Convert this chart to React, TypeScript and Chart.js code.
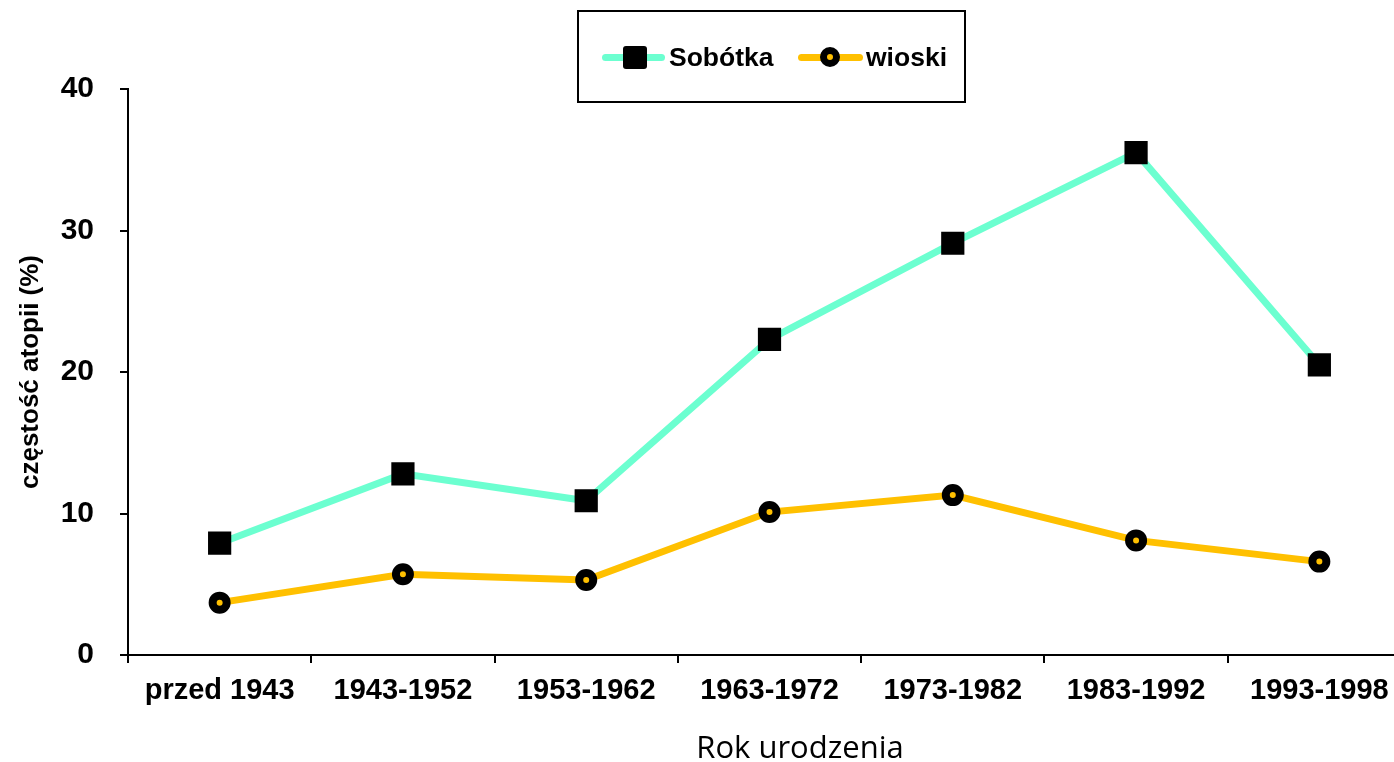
import React, { useEffect, useRef } from "react";
import { Chart, registerables } from "chart.js";

Chart.register(...registerables);

const categories = ["przed 1943", "1943-1952", "1953-1962", "1963-1972", "1973-1982", "1983-1992", "1993-1998"];
const sobotka = [7.9, 12.8, 10.9, 22.3, 29.1, 35.5, 20.5];
const wioski = [3.7, 5.7, 5.3, 10.1, 11.3, 8.1, 6.6];
const yTicks = [0, 10, 20, 30, 40];

const MINT = "#6CFFD0";
const GOLD = "#FFC000";
const BOLD = "'Liberation Sans', Arial, sans-serif";

export default function App() {
  const ref = useRef<HTMLCanvasElement | null>(null);

  useEffect(() => {
    if (!ref.current) return;
    const chart = new Chart(ref.current, {
      type: "line",
      data: {
        labels: categories,
        datasets: [
          {
            label: "Sobótka",
            data: sobotka,
            borderColor: MINT,
            borderWidth: 7,
            pointStyle: "rect",
            pointRadius: 15,
            pointBackgroundColor: "#000",
            pointBorderColor: "#000",
            pointBorderWidth: 2,
            tension: 0,
          },
          {
            label: "wioski",
            data: wioski,
            borderColor: GOLD,
            borderWidth: 7,
            pointStyle: "circle",
            pointRadius: 7,
            pointBackgroundColor: GOLD,
            pointBorderColor: "#000",
            pointBorderWidth: 8,
            tension: 0,
          },
        ],
      },
      options: {
        responsive: false,
        animation: false,
        layout: { padding: { top: 89, left: 0, right: 0, bottom: 0 } },
        plugins: { legend: { display: false }, tooltip: { enabled: false } },
        scales: {
          x: {
            type: "category",
            offset: true,
            grid: { offset: true, drawOnChartArea: false, drawTicks: true, tickLength: 8, color: "#000", lineWidth: 2 },
            border: { display: true, color: "#000", width: 2 },
            ticks: { color: "#000", font: { family: BOLD, size: 29, weight: "bold" }, padding: 11, maxRotation: 0, autoSkip: false },
            afterFit: (s: any) => { s.height = 107; },
          },
          y: {
            min: 0,
            max: 40,
            afterBuildTicks: (s: any) => { s.ticks = yTicks.map((v) => ({ value: v })); },
            grid: { drawOnChartArea: false, drawTicks: true, tickLength: 8, color: "#000", lineWidth: 2 },
            border: { display: true, color: "#000", width: 2 },
            ticks: { color: "#000", font: { family: BOLD, size: 30, weight: "bold" }, padding: 26 },
            title: {
              display: true,
              text: "częstość atopii (%)",
              color: "#000",
              font: { family: BOLD, size: 26, weight: "bold" },
              padding: { top: 15, bottom: 0 },
            },
            afterFit: (s: any) => { s.width = 128; },
          },
        },
      },
    });
    return () => chart.destroy();
  }, []);

  const abs = (style: React.CSSProperties): React.CSSProperties => ({ position: "absolute", ...style });

  return (
    <div style={{ position: "fixed", left: 0, top: 0, width: 1394, height: 762, overflow: "hidden", background: "#fff" }}>
      <canvas ref={ref} width={1428} height={762} style={{ position: "absolute", left: 0, top: 0 }} />
      <div style={abs({ left: 577, top: 10, width: 389, height: 93, border: "2px solid #000", boxSizing: "border-box" })} />
      <div style={abs({ left: 602, top: 54, width: 63, height: 7, borderRadius: 4, background: MINT })} />
      <div style={abs({ left: 623, top: 46, width: 24, height: 23, borderRadius: 3, background: "#000" })} />
      <div style={abs({ left: 669, top: 42, height: 30, lineHeight: "30px", fontFamily: BOLD, fontWeight: "bold", fontSize: 26.5, color: "#000", whiteSpace: "nowrap" })}>Sobótka</div>
      <div style={abs({ left: 798, top: 54, width: 65, height: 7, borderRadius: 4, background: GOLD })} />
      <div style={abs({ left: 820, top: 47, width: 20, height: 20, borderRadius: "50%", background: GOLD, border: "7px solid #000", boxSizing: "border-box" })} />
      <div style={abs({ left: 866, top: 42, height: 30, lineHeight: "30px", fontFamily: BOLD, fontWeight: "bold", fontSize: 26.5, color: "#000", whiteSpace: "nowrap" })}>wioski</div>
      <div style={abs({ left: 600, width: 400, top: 726, height: 40, lineHeight: "40px", textAlign: "center", fontFamily: "'Open Sans', sans-serif", fontSize: 31, color: "#000", whiteSpace: "nowrap" })}>Rok urodzenia</div>
    </div>
  );
}
